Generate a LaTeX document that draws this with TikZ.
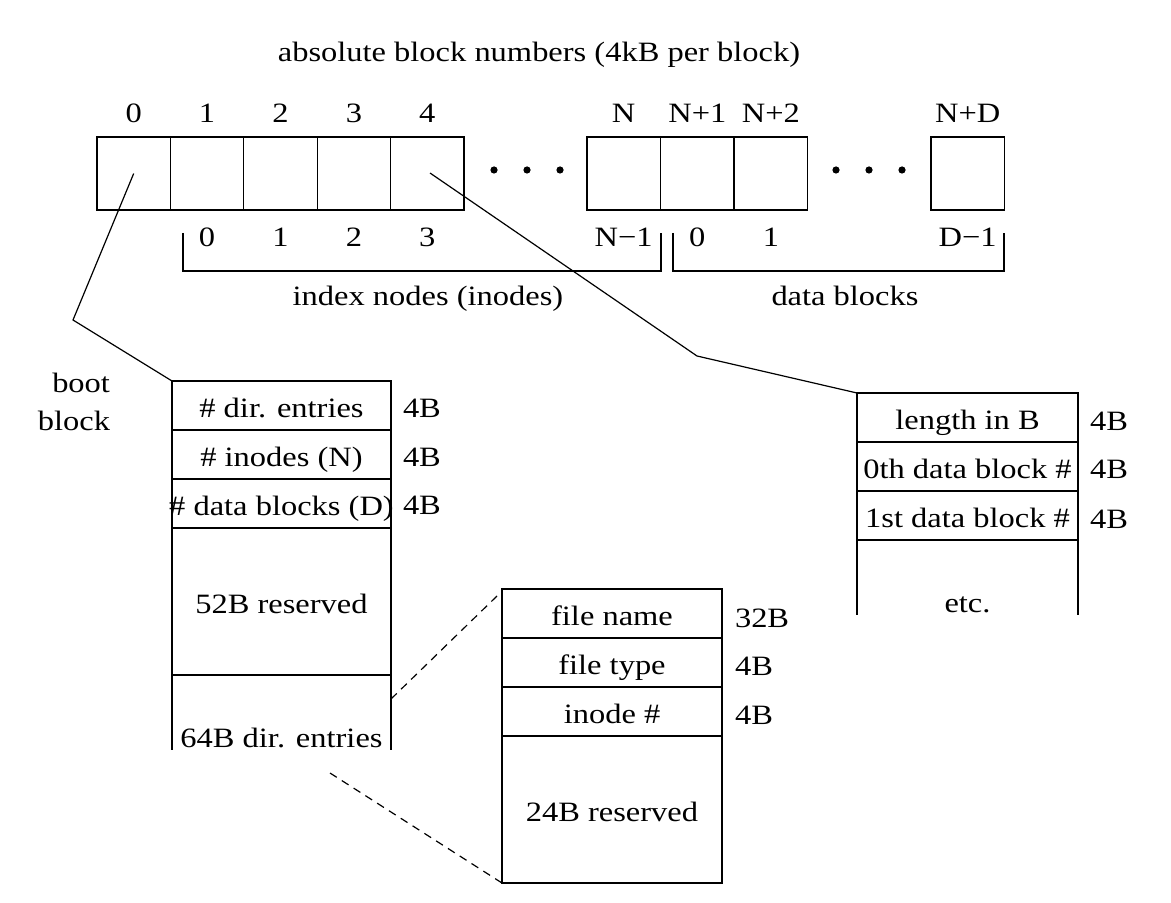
\documentclass[tikz,border=0pt]{standalone}
\usepackage{fontspec}
\setmainfont[FakeStretch=1.16]{Liberation Serif}
\begin{document}
\begin{tikzpicture}[x=0.5pt,y=-0.5pt,
  every node/.style={font=\fontsize{14}{16.8}\selectfont, inner sep=0pt, outer sep=0pt},
  ln/.style={line width=0.6pt},
  blk/.style={draw, ln, minimum width=36.7pt, minimum height=36.5pt, anchor=north west},
  cell/.style={draw, ln, minimum height=24.5pt, anchor=north west, text height=12pt, text depth=0pt},
  tall/.style={cell, minimum height=73.5pt},
  txt/.style={anchor=base},
  sz/.style={anchor=base west},
  dot/.style={circle, fill, minimum size=3.6pt},
  dsh/.style={ln, dash pattern=on 4pt off 3pt},
]
\useasboundingbox (0,0) rectangle (1171,903);

% title
\node[txt] (title) at (539,62) {absolute block numbers (4kB per block)};

% top row of blocks
\node[blk] (b0) at (97,137) {};
\node[blk] (b1) at (170.4,137) {};
\node[blk] (b2) at (243.8,137) {};
\node[blk] (b3) at (317.2,137) {};
\node[blk] (b4) at (390.6,137) {};
\node[blk] (bN) at (587,137) {};
\node[blk] (bN1) at (660.6,137) {};
\node[blk] (bN2) at (734.2,137) {};
\node[blk] (bND) at (931,137) {};

% dots
\node[dot] (d1) at (494,170) {};
\node[dot] (d2) at (527,170) {};
\node[dot] (d3) at (560,170) {};
\node[dot] (d4) at (836,170) {};
\node[dot] (d5) at (869,170) {};
\node[dot] (d6) at (902,170) {};

% absolute numbers
\node[txt] (a0) at (b0.center |- 0,123) {0};
\node[txt] (a1) at (b1.center |- 0,123) {1};
\node[txt] (a2) at (b2.center |- 0,123) {2};
\node[txt] (a3) at (b3.center |- 0,123) {3};
\node[txt] (a4) at (b4.center |- 0,123) {4};
\node[txt] (aN) at (bN.center |- 0,123) {N};
\node[txt] (aN1) at (bN1.center |- 0,123) {N+1};
\node[txt] (aN2) at (bN2.center |- 0,123) {N+2};
\node[txt] (aND) at (bND.center |- 0,123) {N+D};

% relative numbers
\node[txt] (r0) at (b1.center |- 0,247) {0};
\node[txt] (r1) at (b2.center |- 0,247) {1};
\node[txt] (r2) at (b3.center |- 0,247) {2};
\node[txt] (r3) at (b4.center |- 0,247) {3};
\node[txt] (rN) at (bN.center |- 0,247) {N−1};
\node[txt] (q0) at (bN1.center |- 0,247) {0};
\node[txt] (q1) at (bN2.center |- 0,247) {1};
\node[txt] (qD) at (bND.center |- 0,247) {D−1};

% brackets
\coordinate (ia) at (183,233);
\coordinate (ib) at (183,271);
\coordinate (ic) at (661,271);
\coordinate (id) at (661,233);
\draw[ln] (ia) -- (ib) -- (ic) -- (id);
\coordinate (da) at (673,233);
\coordinate (db) at (673,271);
\coordinate (dc) at (1004,271);
\coordinate (dd) at (1004,233);
\draw[ln] (da) -- (db) -- (dc) -- (dd);
\node[txt] (inodes) at (428,306) {index nodes (inodes)};
\node[txt] (datab) at (845,306) {data blocks};

% boot block
\node[anchor=base east] (bootl) at (110,393) {boot};
\node[anchor=base east] (blockl) at (110,430) {block};
\node[cell, minimum width=109.5pt] (c1) at (172,381) {\# dir. entries};
\node[cell, minimum width=109.5pt] (c2) at (172,430) {\# inodes (N)};
\node[cell, minimum width=109.5pt] (c3) at (172,479) {\makebox[0pt][c]{\# data blocks (D)}};
\node[tall, minimum width=109.5pt] (c4) at (172,528) {52B reserved};
\coordinate (c5l) at (172,750);
\coordinate (c5r) at (391,750);
\draw[ln] (c4.south west) -- (c5l);
\draw[ln] (c4.south east) -- (c5r);
\node[txt] (c5) at (281.5,747) {64B dir. entries};
\node[sz] (s1) at (403,417) {4B};
\node[sz] (s2) at (403,466) {4B};
\node[sz] (s3) at (403,514) {4B};

% inode
\node[cell, minimum width=110.5pt] (i1) at (857,393) {length in B};
\node[cell, minimum width=110.5pt] (i2) at (857,442) {0th data block \#};
\node[cell, minimum width=110.5pt] (i3) at (857,491) {1st data block \#};
\coordinate (i4l) at (857,615);
\coordinate (i4r) at (1078,615);
\draw[ln] (i3.south west) -- (i4l);
\draw[ln] (i3.south east) -- (i4r);
\node[txt] (i4) at (967.5,612) {etc.};
\node[sz] (t1) at (1090,430) {4B};
\node[sz] (t2) at (1090,478) {4B};
\node[sz] (t3) at (1090,528) {4B};

% directory entry
\node[cell, minimum width=110pt] (e1) at (502,589) {file name};
\node[cell, minimum width=110pt] (e2) at (502,638) {file type};
\node[cell, minimum width=110pt] (e3) at (502,687) {inode \#};
\node[tall, minimum width=110pt] (e4) at (502,736) {24B reserved};
\node[sz] (u1) at (735,627) {32B};
\node[sz] (u2) at (735,675) {4B};
\node[sz] (u3) at (735,724) {4B};

% connectors
\coordinate (bk) at (73,320);
\draw[ln] (b0.center) -- (bk) -- (c1.north west);
\coordinate (ik) at (697,356);
\coordinate (b4p) at (430,173);
\draw[ln] (b4p) -- (ik) -- (i1.north west);
\coordinate (z1) at (391,699);
\coordinate (z2) at (497,596);
\draw[dsh] (z1) -- (z2);
\coordinate (z3) at (330,773);
\draw[dsh] (z3) -- (e4.south west);
\end{tikzpicture}
\end{document}
